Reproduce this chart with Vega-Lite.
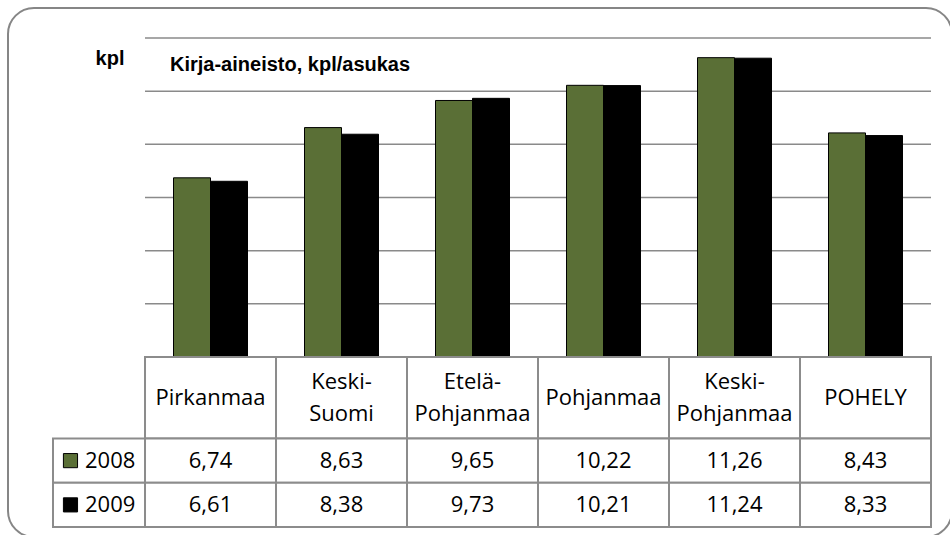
{
  "$schema": "https://vega.github.io/schema/vega-lite/v6.json",
  "width": 944,
  "height": 529,
  "autosize": {"type": "none"},
  "padding": {"left": 8, "top": 8, "right": -2, "bottom": -2},
  "background": "white",
  "config": {
    "view": {"stroke": "#868686", "strokeWidth": 2, "cornerRadius": 26, "fill": "white"},
    "locale": {"number": {"decimal": ",", "thousands": " ", "grouping": [3], "currency": ["", " €"]}},
    "text": {"font": "Open Sans", "fontSize": 22, "color": "black"}
  },
  "title": {
    "text": "Kirja-aineisto, kpl/asukas",
    "anchor": "start",
    "frame": "group",
    "offset": -67,
    "dx": 162,
    "font": "Liberation Sans",
    "fontSize": 20,
    "fontWeight": "bold",
    "color": "black"
  },
  "datasets": {
    "vals": [
      {"region": "Pirkanmaa", "year": "2008", "value": 6.74},
      {"region": "Pirkanmaa", "year": "2009", "value": 6.61},
      {"region": "Keski-Suomi", "year": "2008", "value": 8.63},
      {"region": "Keski-Suomi", "year": "2009", "value": 8.38},
      {"region": "Etelä-Pohjanmaa", "year": "2008", "value": 9.65},
      {"region": "Etelä-Pohjanmaa", "year": "2009", "value": 9.73},
      {"region": "Pohjanmaa", "year": "2008", "value": 10.22},
      {"region": "Pohjanmaa", "year": "2009", "value": 10.21},
      {"region": "Keski-Pohjanmaa", "year": "2008", "value": 11.26},
      {"region": "Keski-Pohjanmaa", "year": "2009", "value": 11.24},
      {"region": "POHELY", "year": "2008", "value": 8.43},
      {"region": "POHELY", "year": "2009", "value": 8.33}
    ],
    "regions": [
      {"region": "Pirkanmaa"},
      {"region": "Keski-Suomi"},
      {"region": "Etelä-Pohjanmaa"},
      {"region": "Pohjanmaa"},
      {"region": "Keski-Pohjanmaa"},
      {"region": "POHELY"}
    ],
    "years": [{"year": "2008"}, {"year": "2009"}],
    "grid": [{"g": 2}, {"g": 4}, {"g": 6}, {"g": 8}, {"g": 10}, {"g": 12}]
  },
  "resolve": {"scale": {"x": "independent", "y": "independent"}},
  "layer": [
    {
      "resolve": {"scale": {"y": "independent"}},
      "layer": [
        {
          "layer": [
            {
              "data": {"name": "grid"},
              "mark": {"type": "rule", "stroke": "#8a8a8a", "strokeWidth": 1.5},
              "encoding": {
                "x": {"datum": "Pirkanmaa", "type": "nominal", "bandPosition": 0,
                      "scale": {"type": "band", "domain": ["Pirkanmaa", "Keski-Suomi", "Etelä-Pohjanmaa", "Pohjanmaa", "Keski-Pohjanmaa", "POHELY"], "paddingInner": 0, "paddingOuter": 0.6031, "align": 0.8671},
                      "axis": null},
                "x2": {"datum": "POHELY", "bandPosition": 1},
                "y": {"field": "g", "type": "quantitative",
                      "scale": {"domain": [-6.7712, 13.1285], "nice": false, "zero": false},
                      "axis": {"title": "kpl", "labels": false, "ticks": false, "domain": false, "grid": false, "titleAngle": 0, "titleX": 101.5, "titleY": 50, "titleAlign": "center", "titleBaseline": "middle", "titleFont": "Liberation Sans", "titleFontSize": 20, "titleFontWeight": "bold", "titleColor": "black"}}
              }
            },
            {
              "data": {"name": "vals"},
              "mark": {"type": "bar", "stroke": "black", "strokeWidth": 1},
              "encoding": {
                "x": {"field": "region", "type": "nominal",
                      "scale": {"type": "band", "domain": ["Pirkanmaa", "Keski-Suomi", "Etelä-Pohjanmaa", "Pohjanmaa", "Keski-Pohjanmaa", "POHELY"], "paddingInner": 0, "paddingOuter": 0.6031, "align": 0.8671},
                      "axis": null},
                "xOffset": {"field": "year", "type": "nominal", "scale": {"paddingInner": 0, "paddingOuter": 0.7703}},
                "y": {"field": "value", "type": "quantitative",
                      "scale": {"domain": [-6.7712, 13.1285], "nice": false, "zero": false},
                      "axis": {"title": "kpl", "labels": false, "ticks": false, "domain": false, "grid": false, "titleAngle": 0, "titleX": 101.5, "titleY": 50, "titleAlign": "center", "titleBaseline": "middle", "titleFont": "Liberation Sans", "titleFontSize": 20, "titleFontWeight": "bold", "titleColor": "black"}},
                "color": {"field": "year", "type": "nominal", "scale": {"domain": ["2008", "2009"], "range": ["#5a6f36", "#000000"]}, "legend": null}
              }
            }
          ]
        },
        {
          "data": {"name": "regions"},
          "transform": [{"calculate": "replace(datum.region, '-', '-\\n')", "as": "label"}],
          "encoding": {
            "x": {"field": "region", "type": "nominal",
                  "scale": {"type": "band", "domain": ["Pirkanmaa", "Keski-Suomi", "Etelä-Pohjanmaa", "Pohjanmaa", "Keski-Pohjanmaa", "POHELY"], "paddingInner": 0, "paddingOuter": 0.6031, "align": 0.8671},
                  "axis": null},
            "y": {"datum": "h", "type": "nominal",
                  "scale": {"type": "band", "domain": ["h"], "paddingInner": 0, "paddingOuter": 0, "range": [349, 430.5]},
                  "axis": null}
          },
          "layer": [
            {"mark": {"type": "rect", "fill": "white", "stroke": "#8c8c8c", "strokeWidth": 2}},
            {"transform": [{"filter": "indexof(datum.region, '-') < 0"}],
             "mark": {"type": "text", "baseline": "middle"},
             "encoding": {"text": {"field": "label", "type": "nominal"}}},
            {"transform": [{"filter": "indexof(datum.region, '-') >= 0"}],
             "mark": {"type": "text", "lineBreak": "\n", "lineHeight": 32, "baseline": "middle", "dy": -16},
             "encoding": {"text": {"field": "label", "type": "nominal"}}}
          ]
        },
        {
          "data": {"name": "vals"},
          "encoding": {
            "x": {"field": "region", "type": "nominal",
                  "scale": {"type": "band", "domain": ["Pirkanmaa", "Keski-Suomi", "Etelä-Pohjanmaa", "Pohjanmaa", "Keski-Pohjanmaa", "POHELY"], "paddingInner": 0, "paddingOuter": 0.6031, "align": 0.8671},
                  "axis": null},
            "y": {"field": "year", "type": "nominal",
                  "scale": {"type": "band", "domain": ["2008", "2009"], "paddingInner": 0, "paddingOuter": 0, "range": [430.5, 519]},
                  "axis": null}
          },
          "layer": [
            {"mark": {"type": "rect", "fill": "white", "stroke": "#8c8c8c", "strokeWidth": 2}},
            {"mark": {"type": "text", "baseline": "middle"},
             "encoding": {"text": {"field": "value", "type": "quantitative", "format": ".2f"}}}
          ]
        }
      ]
    },
    {
      "data": {"name": "years"},
      "encoding": {
        "y": {"field": "year", "type": "nominal",
              "scale": {"type": "band", "domain": ["2008", "2009"], "paddingInner": 0, "paddingOuter": 0, "range": [430.5, 519]},
              "axis": null}
      },
      "layer": [
        {"mark": {"type": "rect", "fill": "white", "stroke": "#8c8c8c", "strokeWidth": 2},
         "encoding": {"x": {"datum": "L", "type": "nominal",
                            "scale": {"type": "band", "domain": ["L"], "paddingInner": 0, "paddingOuter": 0, "range": [45, 137]},
                            "axis": null}}},
        {"mark": {"type": "point", "shape": "square", "size": 200, "filled": true, "stroke": "black", "strokeWidth": 1, "opacity": 1},
         "encoding": {"x": {"datum": "L", "type": "nominal", "bandPosition": 0.19,
                            "scale": {"type": "band", "domain": ["L"], "paddingInner": 0, "paddingOuter": 0, "range": [45, 137]},
                            "axis": null},
                      "color": {"field": "year", "type": "nominal", "scale": {"domain": ["2008", "2009"], "range": ["#5a6f36", "#000000"]}, "legend": null}}},
        {"mark": {"type": "text", "align": "left", "baseline": "middle"},
         "encoding": {"x": {"datum": "L", "type": "nominal", "bandPosition": 0.348,
                            "scale": {"type": "band", "domain": ["L"], "paddingInner": 0, "paddingOuter": 0, "range": [45, 137]},
                            "axis": null},
                      "text": {"field": "year", "type": "nominal"}}}
      ]
    }
  ]
}
